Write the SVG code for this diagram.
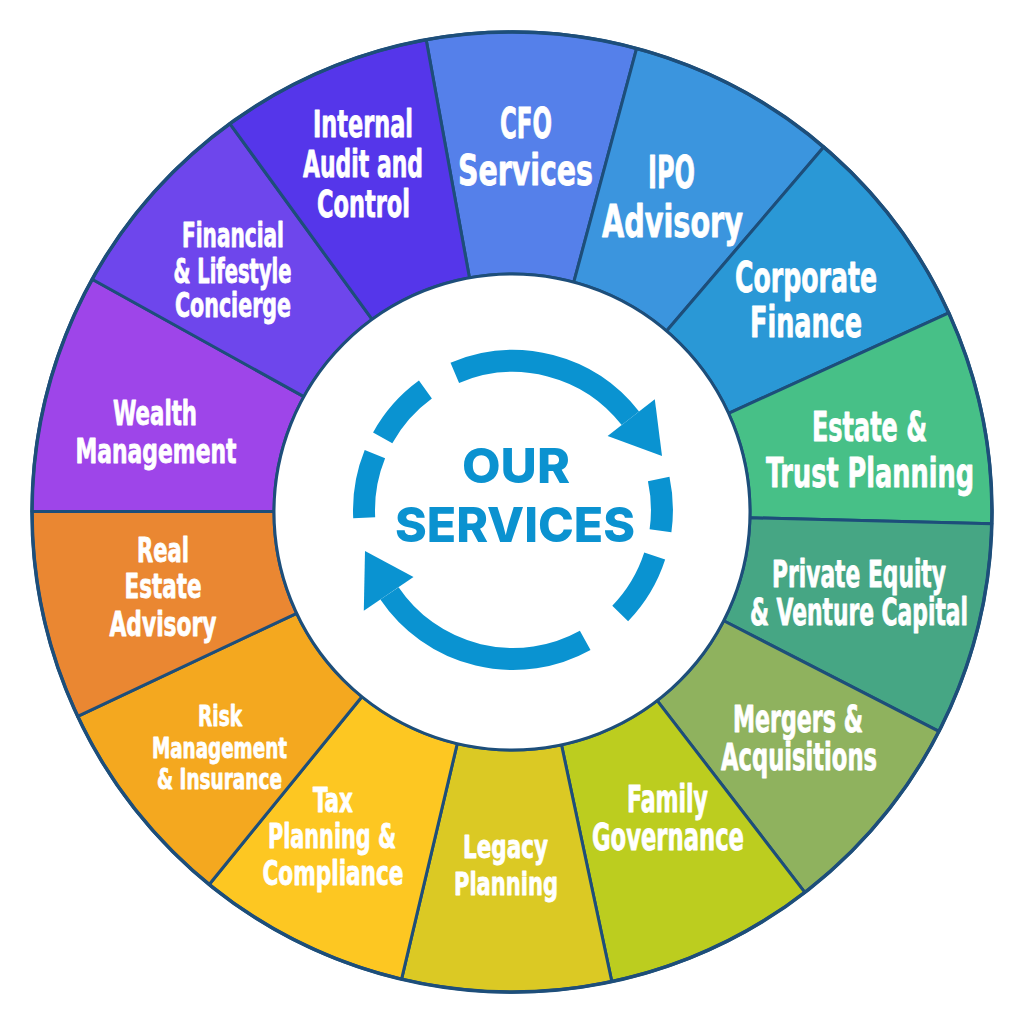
<svg xmlns="http://www.w3.org/2000/svg" width="1024" height="1024" viewBox="0 0 1024 1024">
<style>
.seg{stroke:#1d4e7a;stroke-width:3;stroke-linejoin:round}
.lbl{fill:#ffffff;stroke:#ffffff;stroke-width:0.8;stroke-linejoin:round;font-family:"DejaVu Sans Condensed","DejaVu Sans",sans-serif;font-weight:bold;text-anchor:middle}
.ctr{fill:#0b92d0;font-family:Inter,"Liberation Sans",sans-serif;font-weight:800;text-anchor:middle}
.arc{fill:none;stroke:#0a93d1;stroke-width:22;stroke-linecap:butt}
.head{fill:#0a93d1}
</style>
<rect width="1024" height="1024" fill="#ffffff"/>
<g id="cfo-services">
<path class="seg" fill="#5580ea" d="M426.18,39.74 A480,480 0 0 1 636.64,48.46 L573.80,282.16 A238,238 0 0 0 469.45,277.84 Z"/>
<text class="lbl" font-size="42" x="526" y="138" textLength="52" lengthAdjust="spacingAndGlyphs">CFO</text>
<text class="lbl" font-size="42" x="525.5" y="185" textLength="135" lengthAdjust="spacingAndGlyphs">Services</text>
</g>
<g id="ipo-advisory">
<path class="seg" fill="#3b95de" d="M636.64,48.46 A480,480 0 0 1 823.74,147.00 L666.57,331.02 A238,238 0 0 0 573.80,282.16 Z"/>
<text class="lbl" font-size="45" x="671.5" y="188" textLength="47" lengthAdjust="spacingAndGlyphs">IPO</text>
<text class="lbl" font-size="45" x="672.5" y="237" textLength="141" lengthAdjust="spacingAndGlyphs">Advisory</text>
</g>
<g id="corporate-finance">
<path class="seg" fill="#2a98d6" d="M823.74,147.00 A480,480 0 0 1 948.78,312.95 L728.57,413.30 A238,238 0 0 0 666.57,331.02 Z"/>
<text class="lbl" font-size="42" x="806" y="292" textLength="142" lengthAdjust="spacingAndGlyphs">Corporate</text>
<text class="lbl" font-size="42" x="806" y="337" textLength="112" lengthAdjust="spacingAndGlyphs">Finance</text>
</g>
<g id="estate-trust-planning">
<path class="seg" fill="#47c087" d="M948.78,312.95 A480,480 0 0 1 991.86,523.73 L749.93,517.81 A238,238 0 0 0 728.57,413.30 Z"/>
<text class="lbl" font-size="41" x="869.5" y="441" textLength="115" lengthAdjust="spacingAndGlyphs">Estate &amp;</text>
<text class="lbl" font-size="41" x="870" y="487" textLength="208" lengthAdjust="spacingAndGlyphs">Trust Planning</text>
</g>
<g id="private-equity">
<path class="seg" fill="#46a684" d="M991.86,523.73 A480,480 0 0 1 938.92,731.41 L723.68,620.79 A238,238 0 0 0 749.93,517.81 Z"/>
<text class="lbl" font-size="37" x="859" y="587" textLength="174" lengthAdjust="spacingAndGlyphs">Private Equity</text>
<text class="lbl" font-size="37" x="859" y="625" textLength="218" lengthAdjust="spacingAndGlyphs">&amp; Venture Capital</text>
</g>
<g id="mergers-acquisitions">
<path class="seg" fill="#8fb25e" d="M938.92,731.41 A480,480 0 0 1 804.83,892.33 L657.19,700.58 A238,238 0 0 0 723.68,620.79 Z"/>
<text class="lbl" font-size="37" x="798" y="732" textLength="130" lengthAdjust="spacingAndGlyphs">Mergers &amp;</text>
<text class="lbl" font-size="37" x="799" y="770" textLength="156" lengthAdjust="spacingAndGlyphs">Acquisitions</text>
</g>
<g id="family-governance">
<path class="seg" fill="#bccd1f" d="M804.83,892.33 A480,480 0 0 1 611.80,981.51 L561.48,744.80 A238,238 0 0 0 657.19,700.58 Z"/>
<text class="lbl" font-size="37" x="667.5" y="812" textLength="81" lengthAdjust="spacingAndGlyphs">Family</text>
<text class="lbl" font-size="37" x="668" y="850" textLength="152" lengthAdjust="spacingAndGlyphs">Governance</text>
</g>
<g id="legacy-planning">
<path class="seg" fill="#dbc924" d="M611.80,981.51 A480,480 0 0 1 401.58,979.13 L457.25,743.62 A238,238 0 0 0 561.48,744.80 Z"/>
<text class="lbl" font-size="32" x="505.5" y="858" textLength="85" lengthAdjust="spacingAndGlyphs">Legacy</text>
<text class="lbl" font-size="32" x="506" y="895" textLength="104" lengthAdjust="spacingAndGlyphs">Planning</text>
</g>
<g id="tax-planning">
<path class="seg" fill="#fdc722" d="M401.58,979.13 A480,480 0 0 1 209.22,884.47 L361.87,696.68 A238,238 0 0 0 457.25,743.62 Z"/>
<text class="lbl" font-size="34" x="333" y="812" textLength="40" lengthAdjust="spacingAndGlyphs">Tax</text>
<text class="lbl" font-size="34" x="332" y="848" textLength="128" lengthAdjust="spacingAndGlyphs">Planning &amp;</text>
<text class="lbl" font-size="34" x="333" y="885" textLength="141" lengthAdjust="spacingAndGlyphs">Compliance</text>
</g>
<g id="risk-management">
<path class="seg" fill="#f4a81f" d="M209.22,884.47 A480,480 0 0 1 77.68,716.37 L296.65,613.34 A238,238 0 0 0 361.87,696.68 Z"/>
<text class="lbl" font-size="29" x="220" y="726" textLength="44" lengthAdjust="spacingAndGlyphs">Risk</text>
<text class="lbl" font-size="29" x="219.5" y="758" textLength="135" lengthAdjust="spacingAndGlyphs">Management</text>
<text class="lbl" font-size="29" x="219.5" y="789" textLength="125" lengthAdjust="spacingAndGlyphs">&amp; Insurance</text>
</g>
<g id="real-estate-advisory">
<path class="seg" fill="#ea8732" d="M77.68,716.37 A480,480 0 0 1 32.00,511.16 L274.00,511.58 A238,238 0 0 0 296.65,613.34 Z"/>
<text class="lbl" font-size="34" x="163" y="562" textLength="52" lengthAdjust="spacingAndGlyphs">Real</text>
<text class="lbl" font-size="34" x="163" y="598" textLength="77" lengthAdjust="spacingAndGlyphs">Estate</text>
<text class="lbl" font-size="34" x="163" y="636" textLength="107" lengthAdjust="spacingAndGlyphs">Advisory</text>
</g>
<g id="wealth-management">
<path class="seg" fill="#9e45e9" d="M32.00,511.16 A480,480 0 0 1 92.18,279.29 L303.84,396.62 A238,238 0 0 0 274.00,511.58 Z"/>
<text class="lbl" font-size="34" x="155" y="425" textLength="84" lengthAdjust="spacingAndGlyphs">Wealth</text>
<text class="lbl" font-size="34" x="156" y="463" textLength="161" lengthAdjust="spacingAndGlyphs">Management</text>
</g>
<g id="financial-lifestyle-concierge">
<path class="seg" fill="#6e46ec" d="M92.18,279.29 A480,480 0 0 1 229.86,123.67 L372.11,319.45 A238,238 0 0 0 303.84,396.62 Z"/>
<text class="lbl" font-size="33" x="233" y="247" textLength="102" lengthAdjust="spacingAndGlyphs">Financial</text>
<text class="lbl" font-size="33" x="232.5" y="283" textLength="118" lengthAdjust="spacingAndGlyphs">&amp; Lifestyle</text>
<text class="lbl" font-size="33" x="233" y="317" textLength="116" lengthAdjust="spacingAndGlyphs">Concierge</text>
</g>
<g id="internal-audit-control">
<path class="seg" fill="#5536ea" d="M229.86,123.67 A480,480 0 0 1 426.18,39.74 L469.45,277.84 A238,238 0 0 0 372.11,319.45 Z"/>
<text class="lbl" font-size="37" x="363" y="137" textLength="100" lengthAdjust="spacingAndGlyphs">Internal</text>
<text class="lbl" font-size="37" x="363" y="177" textLength="120" lengthAdjust="spacingAndGlyphs">Audit and</text>
<text class="lbl" font-size="37" x="363.5" y="217" textLength="93" lengthAdjust="spacingAndGlyphs">Control</text>
</g>
<circle cx="512" cy="512" r="480" fill="none" stroke="#1d4e7a" stroke-width="3.5"/>
<g id="our-services">
<circle cx="512" cy="512" r="238" fill="#ffffff" stroke="#1d4e7a" stroke-width="3"/>
<text class="ctr" font-size="48" x="516" y="483" textLength="108" lengthAdjust="spacingAndGlyphs">OUR</text>
<text class="ctr" font-size="48" x="515" y="542" textLength="240" lengthAdjust="spacingAndGlyphs">SERVICES</text>
</g>
<g id="connectors">
<path class="arc" d="M454.8,372.8 A149,149 0 0 1 630.4,418.3"/>
<polygon class="head" points="607.6,436.1 654.8,399.2 662,456"/>
<path class="arc" d="M658.7,479.0 A149,149 0 0 1 660.5,530.7"/>
<path class="arc" d="M654.7,556.0 A149,149 0 0 1 620.2,613.5"/>
<path class="arc" d="M585.2,640.3 A149,149 0 0 1 389.5,593.3"/>
<polygon class="head" points="413.5,577.1 363.8,610.7 365,551"/>
<path class="arc" d="M364.2,517.8 A149,149 0 0 1 374.9,454.2"/>
<path class="arc" d="M382.7,437.8 A149,149 0 0 1 425.4,389.5"/>
</g>
</svg>
